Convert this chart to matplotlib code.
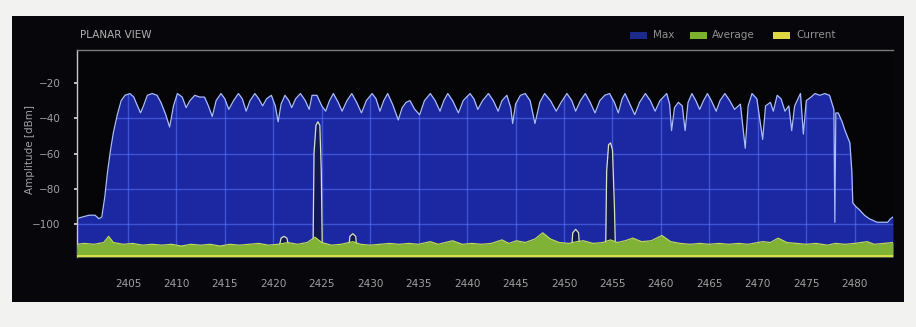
import numpy as np
import matplotlib
matplotlib.use('Agg')
import matplotlib.pyplot as plt
from matplotlib.patches import Rectangle, Polygon

W, H = 916, 327

# Max hold trace (MHz, dBm)
max_freq = [2399.7, 2400.3, 2401.0, 2401.6, 2402.0, 2402.3, 2402.6, 2402.9, 2403.2, 2403.5,
            2403.9, 2404.3, 2404.7, 2405.2, 2405.6, 2405.9, 2406.3, 2406.6, 2407.0, 2407.5,
            2408.0, 2408.4, 2408.9, 2409.3, 2409.7, 2410.1, 2410.6, 2411.0, 2411.4, 2411.9,
            2412.4, 2412.9, 2413.3, 2413.7, 2414.1, 2414.6, 2415.0, 2415.4, 2415.9, 2416.4,
            2416.8, 2417.2, 2417.6, 2418.1, 2418.5, 2418.9, 2419.3, 2419.8, 2420.2, 2420.5,
            2420.8, 2421.2, 2421.6, 2421.9, 2422.3, 2422.8, 2423.3, 2423.7, 2424.0, 2424.5,
            2425.0, 2425.4, 2425.8, 2426.2, 2426.7, 2427.1, 2427.6, 2428.1, 2428.6, 2429.1,
            2429.6, 2430.2, 2430.6, 2431.0, 2431.4, 2431.8, 2432.3, 2432.9, 2433.3, 2433.7,
            2434.1, 2434.6, 2435.1, 2435.6, 2436.2, 2436.7, 2437.2, 2437.6, 2438.0, 2438.5,
            2439.1, 2439.6, 2440.3, 2440.7, 2441.1, 2441.6, 2442.2, 2442.7, 2443.2, 2443.6,
            2444.1, 2444.5, 2444.7, 2445.0, 2445.5, 2446.0, 2446.5, 2447.0, 2447.5, 2448.0,
            2448.6, 2449.2, 2449.7, 2450.3, 2450.8, 2451.2, 2451.7, 2452.2, 2452.7, 2453.2,
            2453.7, 2454.2, 2454.7, 2455.2, 2455.6, 2456.0, 2456.3, 2456.8, 2457.3, 2457.8,
            2458.4, 2458.9, 2459.4, 2459.9, 2460.6, 2460.9, 2461.1, 2461.4, 2461.8, 2462.2,
            2462.5, 2462.8, 2463.2, 2463.6, 2464.0, 2464.4, 2464.8, 2465.2, 2465.7, 2466.1,
            2466.6, 2467.1, 2467.6, 2468.2, 2468.7, 2469.0, 2469.4, 2469.9, 2470.5, 2470.8,
            2471.3, 2471.6, 2472.0, 2472.4, 2472.8, 2473.2, 2473.5, 2473.8, 2474.4, 2474.7,
            2475.0, 2475.5, 2475.9, 2476.4, 2476.9, 2477.4, 2477.85, 2477.95, 2478.05, 2478.3,
            2478.7, 2479.0, 2479.5, 2479.7, 2479.8, 2480.1, 2480.5, 2481.0, 2481.5, 2482.3,
            2483.0, 2483.4, 2483.7, 2483.95]
max_dbm = [-97, -96, -95, -95, -97, -96, -85, -70, -58, -48,
           -38, -30, -27, -26, -28, -32, -37, -33, -27, -26,
           -27, -31, -38, -45, -33, -26, -28, -34, -30, -27,
           -28, -28, -33, -39, -30, -26, -29, -35, -30, -26,
           -29, -36, -30, -26, -29, -33, -29, -27, -33, -42,
           -32, -27, -30, -34, -29, -26, -30, -35, -27, -27,
           -33, -36, -30, -26, -31, -36, -30, -26, -31, -37,
           -30, -26, -29, -36, -30, -26, -32, -41, -34, -31,
           -30, -35, -38, -30, -26, -30, -36, -30, -26, -30,
           -37, -30, -26, -29, -35, -30, -26, -30, -36, -30,
           -27, -34, -43, -32, -27, -26, -30, -43, -31, -26,
           -30, -36, -31, -26, -30, -36, -30, -26, -31, -37,
           -30, -27, -26, -31, -37, -29, -26, -32, -38, -31,
           -26, -30, -36, -30, -26, -32, -47, -34, -31, -33,
           -47, -31, -26, -30, -35, -30, -26, -30, -36, -30,
           -26, -30, -35, -32, -57, -33, -26, -29, -52, -33,
           -31, -36, -27, -29, -36, -33, -47, -33, -26, -49,
           -30, -28, -26, -27, -26, -27, -35, -99, -37, -37,
           -42, -47, -54, -70, -88, -90, -92, -95, -97, -99,
           -99, -99, -97, -96]

# Average trace
avg_freq = [2399.7, 2400.5, 2401.5, 2402.5, 2403.0, 2403.5, 2404.5, 2405.5, 2406.5, 2407.5,
            2408.5, 2409.5, 2410.5, 2411.5, 2412.5, 2413.5, 2414.5, 2415.5, 2416.5, 2417.5,
            2418.5, 2419.5, 2420.5, 2421.5, 2422.5, 2423.5, 2424.3, 2425.0, 2426.0, 2427.0,
            2428.2, 2429.0, 2430.0, 2431.0, 2432.0, 2433.0, 2434.0, 2435.0, 2436.2, 2437.0,
            2438.5, 2439.5, 2440.5, 2441.5, 2442.5, 2443.6, 2444.3, 2445.1, 2446.0, 2447.0,
            2447.8, 2448.6, 2449.5, 2450.5, 2451.3, 2452.0, 2453.0, 2454.0, 2454.8, 2455.5,
            2456.3, 2457.1, 2458.0, 2459.0, 2460.1, 2461.0, 2462.0, 2463.0, 2464.0, 2465.0,
            2466.0, 2467.0, 2468.0, 2469.0, 2470.5, 2471.3, 2472.1, 2473.0, 2474.0, 2475.0,
            2476.0, 2477.2, 2478.0, 2479.0, 2480.0, 2481.3, 2482.0, 2483.0, 2483.95]
avg_dbm = [-111.5, -111, -111.5, -110.5, -107, -110.5, -111.5, -111, -112, -111.5,
           -112, -111.5, -112.5, -111.5, -112, -111.5, -112.5, -111.5, -112, -111.5,
           -111, -112, -111.5, -110.5, -111.5, -110.5, -107.5, -110.5, -112, -111.5,
           -110, -111.5, -112, -111.5, -111, -111.5, -111, -111.5, -110, -111.5,
           -109.5, -111.5, -111, -111.5, -111, -109, -111, -109.5, -110.5, -108.5,
           -105, -108.5, -110.5, -111, -110, -109.5, -111, -110.5, -109, -110.5,
           -109.5, -108, -110, -109.5, -106.5, -110, -111, -111.5, -111, -111.5,
           -111, -111.5, -111, -111.5, -110, -110.5, -108, -110.5, -111, -111.5,
           -111, -112, -111, -111.5, -111, -110, -111.5, -111, -110.5]

# Current trace
cur_freq = [2399.7, 2420.6, 2420.8, 2421.1, 2421.4, 2421.6, 2424.1, 2424.2, 2424.4, 2424.6,
            2424.8, 2424.95, 2425.05, 2427.8, 2427.9, 2428.2, 2428.5, 2428.6, 2450.8, 2450.9,
            2451.2, 2451.5, 2451.6, 2454.3, 2454.4, 2454.6, 2454.8, 2455.0, 2455.2, 2455.3,
            2483.95]
cur_dbm = [-113, -113, -108, -107, -108, -113, -113, -60, -44, -42,
           -44, -70, -113, -113, -107, -105.5, -107, -113, -113, -105,
           -103, -105, -113, -113, -70, -55, -54, -58, -90, -113,
           -113]

x_ticks = list(range(2405, 2481, 5))
y_ticks = [-20, -40, -60, -80, -100]

YMIN, YMAX = -118.7, -1.3
XMIN, XMAX = 2399.74, 2483.95

fig = plt.figure(figsize=(W / 100, H / 100), dpi=100)
fig.patch.set_facecolor('#f2f2f0')

# dark screen behind the chart
fig.add_artist(Rectangle((12 / W, 1 - 302 / H), (904 - 12) / W, (302 - 16) / H,
                         transform=fig.transFigure, facecolor='#07070b',
                         edgecolor='none', zorder=0))

ax = fig.add_axes([77 / W, 1 - 257 / H, (893 - 77) / W, (257 - 50) / H])
ax.set_facecolor('#050508')
ax.set_zorder(1)

# max fill
ax.fill_between(max_freq, YMIN, max_dbm, color='#1c28a2', lw=0, zorder=2)
ax.plot(max_freq, max_dbm, color='#a8bcff', lw=0.9, zorder=3)

# grid only visible over the max fill
clip = Polygon(list(zip(max_freq, max_dbm)) + [(max_freq[-1], YMIN), (max_freq[0], YMIN)],
               closed=True, transform=ax.transData)
for xv in x_ticks:
    ln = ax.axvline(xv, color='#5878ff', lw=1.0, alpha=0.55, zorder=2.5)
    ln.set_clip_path(clip)
for yv in y_ticks:
    ln = ax.axhline(yv, color='#5878ff', lw=1.0, alpha=0.55, zorder=2.5)
    ln.set_clip_path(clip)

# current trace
ax.fill_between(cur_freq, YMIN, cur_dbm, color='#121850', lw=0, zorder=4)
ax.plot(cur_freq, cur_dbm, color='#d8e0c8', lw=0.9, zorder=5)

# average trace
ax.fill_between(avg_freq, YMIN, avg_dbm, color='#80b236', lw=0, zorder=6)
ax.plot(avg_freq, avg_dbm, color='#bcd858', lw=0.9, zorder=7)
ax.axhline(YMIN + 0.7, color='#e2e448', lw=1.3, zorder=8)

ax.set_xlim(XMIN, XMAX)
ax.set_ylim(YMIN, YMAX)
ax.set_xticks(x_ticks)
ax.set_yticks(y_ticks)
ax.tick_params(axis='x', length=0, pad=16, labelsize=7.5, labelcolor='#a0a0a0')
ax.tick_params(axis='y', length=2, width=1.2, color='#dddddd', pad=10,
               labelsize=7.5, labelcolor='#a0a0a0')

for side in ['right', 'bottom']:
    ax.spines[side].set_visible(False)
ax.spines['left'].set_color('#c8c8c8')
ax.spines['left'].set_linewidth(1.0)
ax.spines['top'].set_color('#7a7a7a')
ax.spines['top'].set_linewidth(1.0)

fig.text(30 / W, 1 - 150 / H, 'Amplitude [dBm]', rotation=90, ha='center', va='center',
         fontsize=7.5, color='#a0a0a0')
fig.text(80 / W, 1 - 35 / H, 'PLANAR VIEW', ha='left', va='center',
         fontsize=7.5, color='#b0b0b0')

# legend
legend_items = [('Max', '#1c2a8a', 630, 653), ('Average', '#7cb030', 690, 712),
                ('Current', '#e0d840', 773, 796)]
for name, col, px, tx in legend_items:
    fig.add_artist(Rectangle((px / W, 1 - 39 / H), 17 / W, 7 / H,
                             transform=fig.transFigure, facecolor=col,
                             edgecolor='none', zorder=3))
    fig.text(tx / W, 1 - 35 / H, name, ha='left', va='center',
             fontsize=7.5, color='#909090')

fig.savefig('out.png', dpi=100, facecolor=fig.get_facecolor())
